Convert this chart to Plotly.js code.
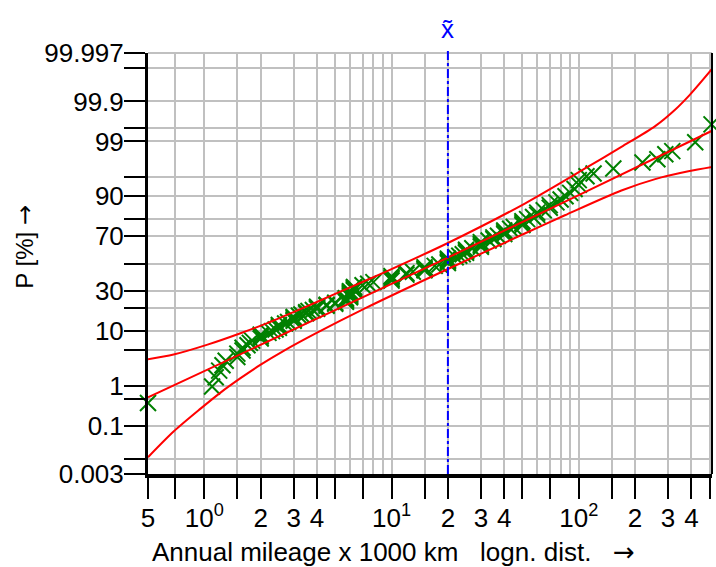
<!DOCTYPE html>
<html><head><meta charset="utf-8">
<script src="https://cdn.plot.ly/plotly-3.0.1.min.js"></script>
<style>html,body{margin:0;padding:0;background:#fff}#chart{width:716px;height:567px}</style>
</head><body><div id="chart"></div>
<script>
// ---- data (mileage in 1000 km, cumulative probability in %) ----
const mileage = [0.5,1.1,1.15,1.2,1.25,1.3,1.5,1.5,1.6,1.6,1.7,1.75,1.8,2.0,2.0,2.0,2.2,2.3,2.4,2.5,2.5,2.5,2.7,2.8,3.0,3.0,3.0,3.0,3.2,3.3,3.5,
 3.5,3.6,3.8,4.0,4.0,4.0,4.5,4.5,5.0,5.0,
 5.7,5.7,5.7,5.7,5.7,6.0,6.0,6.0,6.0,6.0,6.0,6.0,6.0,6.3,6.3,6.3,6.3,6.3,
 7.0,7.5,8.0,10,10,10,10,12,12,13,15,15,15,17,18,20,20,20,20,22,23,24,25,25,25,27,30,30,30,30,33,35,35,37,40,40,40,43,45,50,50,50,53,57,60,60,65,70,70,76,80,85,90,95,100,100,110,120,
 153,219,263,290,316,419,512];
const cumPct = [0.39,0.95,1.51,2.06,2.62,3.18,3.73,4.29,4.85,5.41,5.96,6.52,7.08,7.63,8.19,8.75,9.31,9.86,10.42,10.98,11.53,12.09,12.65,13.21,13.76,14.32,14.88,15.44,15.99,16.55,17.11,
 17.66,18.22,18.78,19.34,19.9,20.45,21.0,21.57,22.13,22.69,
 23.24,23.8,24.36,24.92,25.47,26.03,26.59,27.14,27.7,28.26,28.82,29.37,29.93,30.48,31.04,31.6,32.16,32.71,
 33.9,35.0,36.1,37.2,38.3,39.4,40.5,41.6,42.7,43.8,44.9,46.0,47.1,48.2,49.3,50.4,51.5,52.6,53.7,54.8,55.9,57.0,58.1,59.2,60.3,61.4,62.5,63.6,64.7,65.8,66.9,68.0,69.1,70.2,71.3,72.4,73.5,74.6,75.7,76.8,77.9,79.0,80.1,81.2,82.3,83.4,84.5,85.6,86.7,87.8,88.9,90.0,91.1,92.2,93.3,94.4,95.2,95.7,
 96.5,97.3,97.66,98.14,98.39,98.96,99.6];

// fitted log-normal line and confidence band
const fitX = [0.5, 2, 10, 20, 100, 515];
const fitP = [0.536, 6.08, 34.9, 54.5, 90.4, 99.43];

const upperX = [0.5, 0.685, 1.04, 1.56, 2.17, 3.26, 5.0, 9.35, 20, 51.8, 111, 169, 256, 328, 394, 515];
const upperP = [3.40, 4.14, 6.10, 9.19, 12.8, 19.2, 28.1, 43.9, 65.2, 87.45, 96.68, 98.69, 99.56, 99.834, 99.937, 99.9896];

const lowerX = [0.5, 0.685, 0.951, 1.22, 1.56, 1.99, 2.64, 3.91, 7.21, 20, 51.8, 84.3, 169, 256, 385, 515];
const lowerP = [0.0111, 0.068, 0.279, 0.693, 1.44, 2.66, 4.75, 9.04, 19.6, 45.8, 71.8, 82.1, 91.8, 94.62, 96.06, 96.72];

const medianX = 20;

const yTickP = [0.003, 0.01, 0.1, 0.5, 1, 5, 10, 20, 30, 50, 70, 80, 90, 95, 99, 99.5, 99.9, 99.99, 99.997];
const yTickText = ['0.003', '', '0.1', '', '1', '', '10', '', '30', '', '70', '', '90', '', '99', '', '99.9', '', '99.997'];

const xTickVals = [0.5, 0.7, 1, 1.5, 2, 3, 4, 5, 7, 10, 15, 20, 30, 40, 50, 70, 100, 150, 200, 300, 400, 500];
const xTickText = ['5', '', '10<sup>0</sup>', '', '2', '3', '4', '', '', '10<sup>1</sup>', '', '2', '3', '4', '', '', '10<sup>2</sup>', '', '2', '3', '4', ''];
const xGridExtra = [6, 8, 9, 60, 80, 90];

// ---- probability scale (normal quantile) ----
function probit(p){
 const a=[-3.969683028665376e+01,2.209460984245205e+02,-2.759285104469687e+02,1.383577518672690e+02,-3.066479806614716e+01,2.506628277459239e+00];
 const b=[-5.447609879822406e+01,1.615858368580409e+02,-1.556989798598866e+02,6.680131188771972e+01,-1.328068155288572e+01];
 const c=[-7.784894002430293e-03,-3.223964580411365e-01,-2.400758277161838e+00,-2.549732539343734e+00,4.374664141464968e+00,2.938163982698783e+00];
 const d=[7.784695709041462e-03,3.224671290700398e-01,2.445134137142996e+00,3.754408661907416e+00];
 const pl=0.02425, ph=1-pl; let q,r;
 if(p<pl){q=Math.sqrt(-2*Math.log(p));return (((((c[0]*q+c[1])*q+c[2])*q+c[3])*q+c[4])*q+c[5])/((((d[0]*q+d[1])*q+d[2])*q+d[3])*q+1);}
 if(p<=ph){q=p-0.5;r=q*q;return (((((a[0]*r+a[1])*r+a[2])*r+a[3])*r+a[4])*r+a[5])*q/(((((b[0]*r+b[1])*r+b[2])*r+b[3])*r+b[4])*r+1);}
 q=Math.sqrt(-2*Math.log(1-p));return -(((((c[0]*q+c[1])*q+c[2])*q+c[3])*q+c[4])*q+c[5])/((((d[0]*q+d[1])*q+d[2])*q+d[3])*q+1);
}
const z = arr => arr.map(p => probit(p/100));

const FONT = 'Liberation Sans, Arial, Helvetica, sans-serif';
const ARROW = '<span style="font-family:DejaVu Sans">\u2192</span>';
const red = 'rgb(255,0,0)';
const traces = [
 {x: mileage, y: z(cumPct), type:'scatter', mode:'markers', cliponaxis:false,
  marker:{symbol:'x-thin', size:16, line:{width:2, color:'rgb(0,128,0)'}, color:'rgb(0,128,0)'}},
 {x: lowerX, y: z(lowerP), type:'scatter', mode:'lines', line:{color:red, width:2, shape:'spline', smoothing:0.8}},
 {x: upperX, y: z(upperP), type:'scatter', mode:'lines', line:{color:red, width:2, shape:'spline', smoothing:0.8}},
 {x: fitX, y: z(fitP), type:'scatter', mode:'lines', line:{color:red, width:2}}
];

const yr = [probit(0.00003), probit(0.99997)];
const layout = {
 width:716, height:567, showlegend:false,
 paper_bgcolor:'#fff', plot_bgcolor:'#fff',
 margin:{l:148, r:4, t:53, b:93, pad:0},
 font:{family:FONT, color:'#000', size:26},
 xaxis:{type:'log', range:[Math.log10(0.5), Math.log10(515)], tickmode:'array', tickvals:xTickVals, ticktext:xTickText,
  ticks:'outside', ticklen:21, tickwidth:2, tickcolor:'#000', showline:true, linecolor:'#000', linewidth:4,
  showgrid:true, gridcolor:'#c0c0c0', gridwidth:2, zeroline:false, tickfont:{size:26, family:FONT}, ticklabelstandoff:-3,
  minor:{tickmode:'array', tickvals:xGridExtra, showgrid:true, gridcolor:'#c0c0c0', gridwidth:2, ticks:''}},
 yaxis:{range:yr, tickmode:'array', tickvals:z(yTickP), ticktext:yTickText,
  ticks:'outside', ticklen:21, tickwidth:2, tickcolor:'#000', showline:true, linecolor:'#000', linewidth:3,
  showgrid:true, gridcolor:'#c0c0c0', gridwidth:2, zeroline:false, tickfont:{size:26, family:FONT}, ticklabelstandoff:-5},
 shapes:[
  {type:'line', xref:'paper', yref:'paper', x0:0, x1:1, y0:1, y1:1, line:{color:'#c0c0c0', width:2}},
  {type:'line', xref:'paper', yref:'paper', x0:1, x1:1, y0:0, y1:1, line:{color:'#000', width:2}},
  {type:'line', xref:'x', yref:'paper', x0:medianX, x1:medianX, y0:0, y1:1.01, line:{color:'rgb(0,0,255)', width:2, dash:'dashdot'}}
 ],
 annotations:[
  {xref:'paper', yref:'paper', x:0.006, y:-0.2225, xanchor:'left', yanchor:'bottom', showarrow:false, borderpad:0,
   text:'Annual mileage x 1000 km\u00a0\u00a0 logn. dist.\u00a0\u00a0\u00a0' + ARROW, font:{size:26, family:FONT}},
  {xref:'paper', yref:'paper', x:-0.218, y:0.54, xanchor:'center', yanchor:'middle', showarrow:false, textangle:-90,
   text:'P [%] ' + ARROW, font:{size:24, family:FONT}},
  {xref:'x', yref:'paper', x:Math.log10(medianX), y:1.058, xanchor:'center', yanchor:'middle', showarrow:false,
   text:'x\u0303', font:{size:26, family:FONT, color:'rgb(0,0,255)'}}
 ]
};
Plotly.newPlot('chart', traces, layout, {displayModeBar:false, staticPlot:true});
</script>
</body></html>
